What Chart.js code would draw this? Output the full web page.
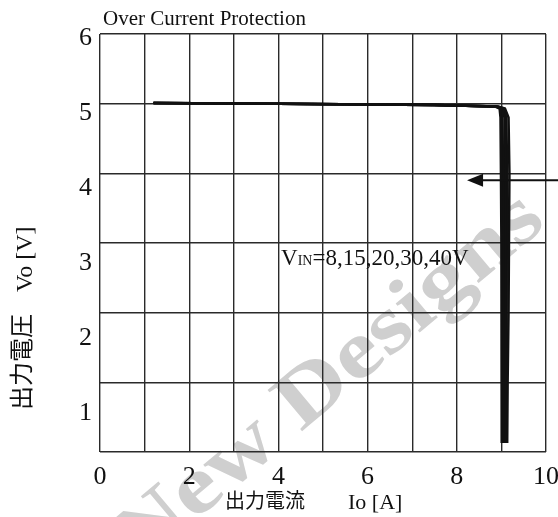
<!DOCTYPE html>
<html>
<head>
<meta charset="utf-8">
<script src="https://cdn.jsdelivr.net/npm/chart.js@4.4.1/dist/chart.umd.min.js"></script>
<style>
  html, body { margin: 0; padding: 0; background: #fff; }
  #wrap { width: 558px; height: 517px; }
</style>
</head>
<body>
<div id="wrap"><canvas id="ocp"></canvas></div>
<script>
// tick labels
var xTicks = [0, 2, 4, 6, 8, 10];
var yTicks = [1, 2, 3, 4, 5, 6];

// input voltages (one curve each)
var vinLevels = [8, 15, 20, 30, 40];

// output voltage points shared by every curve [V]
var voPoints = [5.01, 5.00, 4.98, 4.96, 4.93, 4.80, 4.00, 3.00, 2.00, 1.00, 0.13];

// output current for each curve [A]
var io8  = [1.2, 4.0, 7.5, 8.85, 8.96, 8.98, 8.99, 9.00, 9.00, 9.01, 9.01];
var io15 = [1.2, 4.0, 7.5, 8.87, 8.99, 9.02, 9.04, 9.04, 9.04, 9.04, 9.04];
var io20 = [1.2, 4.0, 7.5, 8.89, 9.02, 9.07, 9.08, 9.08, 9.08, 9.07, 9.07];
var io30 = [1.2, 4.0, 7.5, 8.91, 9.05, 9.11, 9.13, 9.12, 9.12, 9.11, 9.10];
var io40 = [1.2, 4.0, 7.5, 8.93, 9.08, 9.16, 9.18, 9.17, 9.16, 9.14, 9.13];
var ioSeries = [io8, io15, io20, io30, io40];

var SERIF = '"Liberation Serif", "DejaVu Serif", serif';
var CJK = '"Noto Sans CJK JP", "Noto Sans", sans-serif';

var datasets = vinLevels.map(function (v, i) {
    return {
        label: 'VIN=' + v + 'V',
        data: voPoints.map(function (vo, j) { return { x: ioSeries[i][j], y: vo }; }),
        borderColor: '#111',
        borderWidth: 2.5,
        pointRadius: 0,
        tension: 0,
        fill: false
    };
});

// texts, arrow and watermark
var decor = {
    id: 'decor',
    beforeDraw: function (chart) {
        var c = chart.ctx;
        c.save();
        c.fillStyle = '#fff';
        c.fillRect(0, 0, chart.width, chart.height);
        // watermark
        c.translate(330, 380);
        c.rotate(-40 * Math.PI / 180);
        c.scale(1.2, 1);
        c.font = 'bold 82px ' + SERIF;
        c.fillStyle = '#cfcfcf';
        c.textAlign = 'center';
        c.textBaseline = 'middle';
        c.fillText('New Designs', 0, 0);
        c.restore();
    },
    afterDraw: function (chart) {
        var c = chart.ctx;
        var a = chart.chartArea;
        var sx = chart.scales.x, sy = chart.scales.y;
        c.save();
        c.fillStyle = '#111';
        c.strokeStyle = '#111';

        // title
        c.font = '21px ' + SERIF;
        c.textAlign = 'left';
        c.textBaseline = 'alphabetic';
        c.fillText('Over Current Protection', a.left + 3, 25);

        // x axis title
        c.font = '20px ' + CJK;
        c.fillText('出力電流', 225, 508);
        c.font = '22px ' + SERIF;
        c.fillText('Io [A]', 348, 509);

        // y axis title
        c.save();
        c.translate(30, 410);
        c.rotate(-Math.PI / 2);
        c.font = '24px ' + CJK;
        c.fillText('出力電圧', 0, 0);
        c.font = '24px ' + SERIF;
        c.fillText('Vo [V]', 118, 2);
        c.restore();

        // VIN label
        var lx = sx.getPixelForValue(4.06), ly = sy.getPixelForValue(2.69);
        c.font = '23px ' + SERIF;
        c.fillText('V', lx, ly);
        var w = c.measureText('V').width;
        c.font = '14px ' + SERIF;
        c.fillText('IN', lx + w, ly);
        w += c.measureText('IN').width;
        c.font = '23px ' + SERIF;
        c.fillText('=8,15,20,30,40V', lx + w, ly);

        // arrow pointing at the curves
        var tx = sx.getPixelForValue(8.23), ty = sy.getPixelForValue(3.9);
        c.lineWidth = 2;
        c.beginPath();
        c.moveTo(tx + 14, ty);
        c.lineTo(chart.width, ty);
        c.stroke();
        c.beginPath();
        c.moveTo(tx, ty);
        c.lineTo(tx + 16, ty - 6.5);
        c.lineTo(tx + 16, ty + 6.5);
        c.closePath();
        c.fill();
        c.restore();
    }
};

var ctx = document.getElementById('ocp');

var chart = new Chart(ctx, {
    type: 'line',
    data: { datasets: datasets },
    plugins: [decor],
    options: {
        responsive: true,
        maintainAspectRatio: false,
        animation: false,
        layout: {
            padding: { top: 34, right: 0, bottom: 0, left: 0 }
        },
        plugins: {
            legend: { display: false },
            tooltip: { enabled: false }
        },
        scales: {
            x: {
                type: 'linear',
                min: 0,
                max: 10,
                border: { display: false },
                grid: { color: '#2a2a2a', lineWidth: 1.4, drawTicks: false },
                ticks: {
                    stepSize: 1,
                    autoSkip: false,
                    maxRotation: 0,
                    padding: 10,
                    color: '#111',
                    font: { family: SERIF, size: 26 },
                    callback: function (v) { return xTicks.indexOf(v) >= 0 ? String(v) : ''; }
                },
                afterFit: function (s) {
                    s.height = 65;
                    s.paddingLeft = 0;
                    s.paddingRight = 12;
                }
            },
            // grid lines only
            y: {
                type: 'linear',
                min: 0,
                max: 6,
                border: { display: false },
                grid: { color: '#2a2a2a', lineWidth: 1.4, drawTicks: false },
                ticks: { display: false, stepSize: 1 },
                afterFit: function (s) { s.width = 0; }
            },
            // tick labels as printed (slightly wider spacing than the grid)
            y2: {
                type: 'linear',
                position: 'left',
                min: 0.48,
                max: 6.053,
                border: { display: false },
                grid: { display: false, drawTicks: false },
                ticks: {
                    padding: 8,
                    color: '#111',
                    font: { family: SERIF, size: 26 }
                },
                afterBuildTicks: function (s) {
                    s.ticks = yTicks.map(function (v) { return { value: v }; });
                },
                afterFit: function (s) { s.width = 100; }
            }
        }
    }
});
</script>
</body>
</html>
